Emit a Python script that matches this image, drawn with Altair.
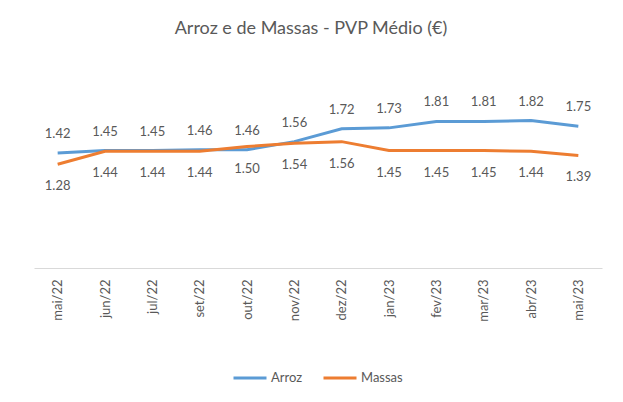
import altair as alt
import pandas as pd

months = ["mai/22", "jun/22", "jul/22", "set/22", "out/22", "nov/22",
          "dez/22", "jan/23", "fev/23", "mar/23", "abr/23", "mai/23"]
arroz = [1.42, 1.45, 1.45, 1.46, 1.46, 1.56, 1.72, 1.73, 1.81, 1.81, 1.82, 1.75]
massas = [1.28, 1.44, 1.44, 1.44, 1.50, 1.54, 1.56, 1.45, 1.45, 1.45, 1.44, 1.39]
series_names = ["Arroz", "Massas"]
colors = ["#5B9BD5", "#ED7D31"]

rows = []
for m, a, b in zip(months, arroz, massas):
    rows.append({"mes": m, "serie": "Arroz", "valor": a})
    rows.append({"mes": m, "serie": "Massas", "valor": b})
df = pd.DataFrame(rows)

FONT = "Lato"
LABEL = "#595959"

x = alt.X("mes:O", sort=months, title=None,
          axis=alt.Axis(labelAngle=270, ticks=False, grid=False, domainColor="#D9D9D9",
                        domainWidth=1, labelFont=FONT, labelFontSize=13, labelColor=LABEL,
                        labelPadding=11))
y = alt.Y("valor:Q", scale=alt.Scale(domain=[0, 2], nice=False, zero=True), axis=None)

base = alt.Chart(df)

lines = base.mark_line(strokeWidth=3).encode(
    x=x, y=y,
    color=alt.Color("serie:N", scale=alt.Scale(domain=series_names, range=colors),
                    legend=alt.Legend(title=None, orient="none", direction="horizontal",
                                      legendX=198, legendY=254,
                                      symbolType="stroke", symbolSize=1089,
                                      symbolStrokeWidth=3, labelFont=FONT,
                                      labelFontSize=13, labelColor=LABEL,
                                      labelOffset=3, columnPadding=14)),
)

txt_a = base.transform_filter(alt.datum.serie == "Arroz").mark_text(
    dy=-19, font=FONT, fontSize=13, color=LABEL
).encode(x=x, y=y, text=alt.Text("valor:Q", format=".2f"))

txt_m = base.transform_filter(alt.datum.serie == "Massas").mark_text(
    dy=22, font=FONT, fontSize=13, color=LABEL
).encode(x=x, y=y, text=alt.Text("valor:Q", format=".2f"))

chart = alt.layer(lines, txt_a, txt_m).properties(
    width=568, height=162,
    background="white",
    title=alt.TitleParams("Arroz e de Massas - PVP Médio (€)", font=FONT, fontSize=18,
                          fontWeight="normal", color=LABEL, anchor="middle", dx=-7,
                          offset=58),
    autosize=alt.AutoSizeParams(type="none"),
    padding={"left": 26, "top": 98, "right": 13, "bottom": 126},
).configure_view(stroke=None)

chart.save("out.html", embed_options={"renderer": "svg", "actions": False})
